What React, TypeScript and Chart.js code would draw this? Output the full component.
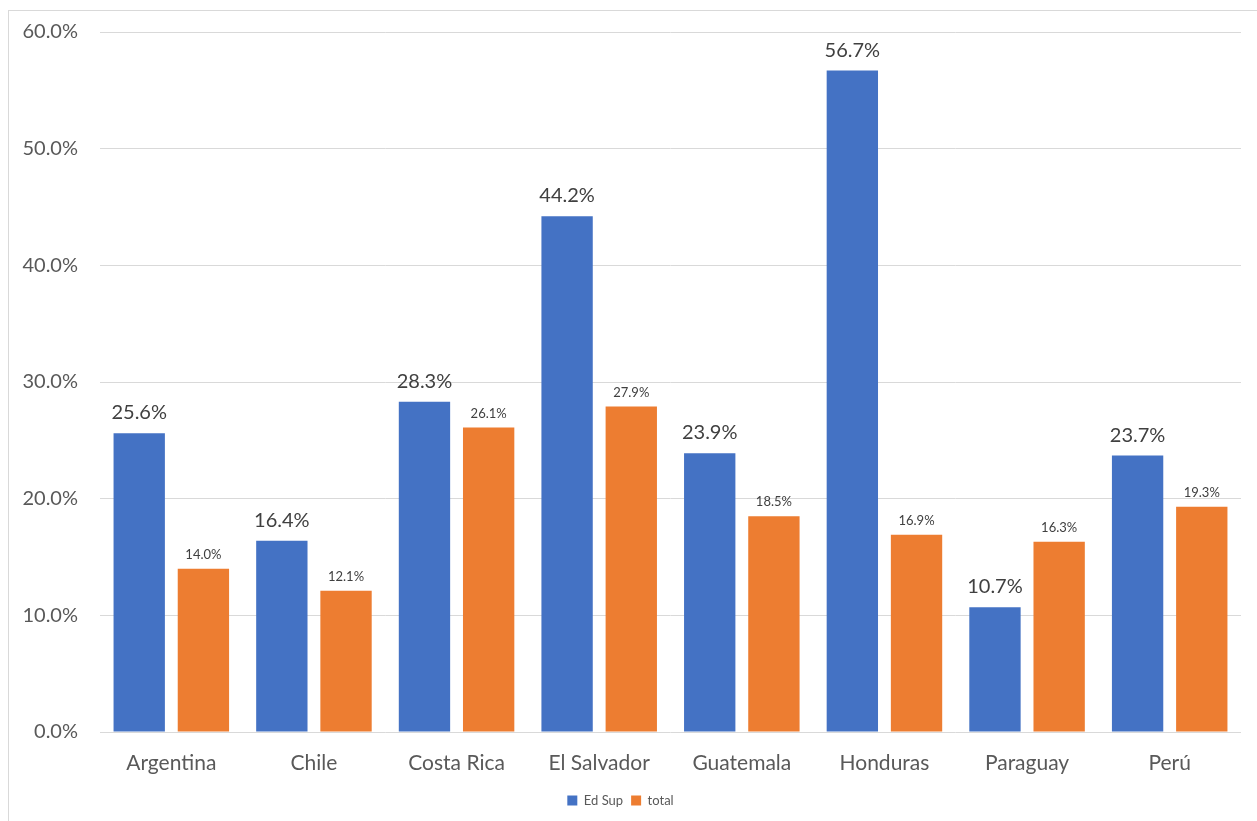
import React, { useEffect, useRef } from "react";
import { Chart, registerables } from "chart.js";

Chart.register(...registerables);

const countries = ["Argentina", "Chile", "Costa Rica", "El Salvador", "Guatemala", "Honduras", "Paraguay", "Perú"];
const edSup = [25.6, 16.4, 28.3, 44.2, 23.9, 56.7, 10.7, 23.7];
const total = [14.0, 12.1, 26.1, 27.9, 18.5, 16.9, 16.3, 19.3];
const seriesNames = ["Ed Sup", "total"];
const yTicks = [0, 10, 20, 30, 40, 50, 60];

const FONT = "Lato, 'Open Sans', sans-serif";
const TEXT = "#595959";
const LABEL = "#404040";

const pct = (v: number) => v.toFixed(1) + "%";

// Writes each bar's value above it; the first series uses a larger face.
const valueLabels = {
  id: "valueLabels",
  afterDatasetsDraw(chart: any) {
    const ctx = chart.ctx;
    ctx.save();
    ctx.textAlign = "center";
    ctx.textBaseline = "alphabetic";
    ctx.fillStyle = LABEL;
    chart.data.datasets.forEach((ds: any, di: number) => {
      const meta = chart.getDatasetMeta(di);
      const big = di === 0;
      ctx.font = `${big ? 20 : 13}px ${FONT}`;
      meta.data.forEach((bar: any, i: number) => {
        const y = bar.y - (big ? 14 : 10);
        ctx.fillText(pct(ds.data[i]), bar.x, y);
      });
    });
    ctx.restore();
  },
};

export default function App() {
  const ref = useRef<HTMLCanvasElement>(null);

  useEffect(() => {
    if (!ref.current) return;
    const chart = new Chart(ref.current, {
      type: "bar",
      data: {
        labels: countries,
        datasets: [
          { label: seriesNames[0], data: edSup, backgroundColor: "#4472C4" },
          { label: seriesNames[1], data: total, backgroundColor: "#ED7D31" },
        ],
      },
      options: {
        animation: false,
        responsive: false,
        maintainAspectRatio: false,
        layout: { padding: { left: 0, right: 16, top: 32, bottom: 4 } },
        datasets: { bar: { categoryPercentage: 0.9, barPercentage: 0.8 } },
        scales: {
          x: {
            grid: { display: false, drawTicks: false },
            border: { display: false },
            ticks: { color: TEXT, font: { family: FONT, size: 21 }, padding: 19 },
            afterFit: (s: any) => { s.height = 54; },
          },
          y: {
            min: 0,
            max: 60,
            afterBuildTicks: (s: any) => { s.ticks = yTicks.map((v) => ({ value: v })); },
            grid: { color: "#D9D9D9", lineWidth: 1, drawTicks: false },
            border: { display: false },
            ticks: {
              color: TEXT,
              font: { family: FONT, size: 20 },
              padding: 22,
              callback: (v: any) => pct(Number(v)),
            },
            afterFit: (s: any) => {
              s.width = 100;
              s.paddingTop = 0;
              s.paddingBottom = 0;
            },
          },
        },
        plugins: {
          legend: {
            position: "bottom",
            labels: {
              color: TEXT,
              font: { family: FONT, size: 13 },
              boxWidth: 10,
              boxHeight: 10,
              padding: 8,
            },
          },
          tooltip: { enabled: false },
        },
      },
      plugins: [valueLabels],
    });
    return () => chart.destroy();
  }, []);

  return (
    <div style={{ position: "fixed", inset: 0, overflow: "hidden", background: "#fff" }}>
      <div
        style={{
          position: "absolute",
          left: 8,
          top: 10,
          width: 1300,
          height: 900,
          border: "1px solid #D9D9D9",
        }}
      />
      <canvas ref={ref} width={1257} height={821} style={{ position: "absolute", left: 0, top: 0 }} />
    </div>
  );
}
